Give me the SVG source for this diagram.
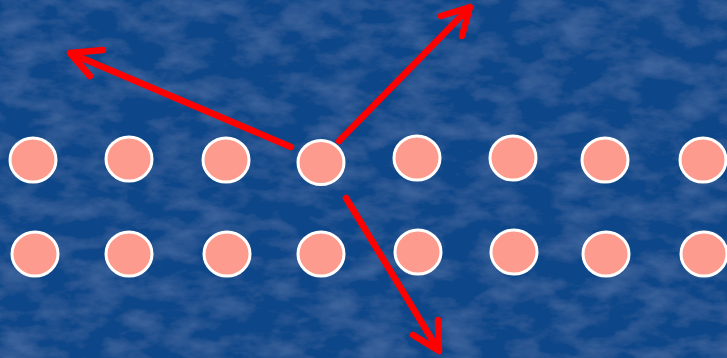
<svg xmlns="http://www.w3.org/2000/svg" width="727" height="358" viewBox="0 0 727 358">
<style>
.dot{fill:#fd9c8e;stroke:#ffffff;stroke-width:3}
.arr{fill:none;stroke:#ff0000;stroke-width:6.5;stroke-linecap:round;stroke-linejoin:round}
</style>
<defs>
<filter id="tex" x="0" y="0" width="100%" height="100%">
<feTurbulence type="fractalNoise" baseFrequency="0.025 0.05" numOctaves="4" seed="3" result="n"/>
<feColorMatrix in="n" type="matrix" values="0 0 0 0 0.25  0 0 0 0 0.45  0 0 0 0 0.75  0 0 0 0.35 -0.14" result="c"/>
<feComposite in="c" in2="SourceGraphic" operator="over"/>
</filter>
</defs>
<rect width="727" height="358" fill="#0d4789" filter="url(#tex)"/>
<g id="row1">
<ellipse id="n1" class="dot" cx="33" cy="160" rx="23" ry="22"/>
<ellipse id="n2" class="dot" cx="129" cy="159" rx="23" ry="22"/>
<ellipse id="n3" class="dot" cx="226" cy="160" rx="23" ry="22"/>
<ellipse id="n4" class="dot" cx="321" cy="162.5" rx="23" ry="22"/>
<ellipse id="n5" class="dot" cx="417" cy="158" rx="23" ry="22"/>
<ellipse id="n6" class="dot" cx="513" cy="158" rx="23" ry="22"/>
<ellipse id="n7" class="dot" cx="605" cy="160" rx="23" ry="22"/>
<ellipse id="n8" class="dot" cx="703" cy="160" rx="23" ry="22"/>
</g>
<g id="row2">
<ellipse id="m1" class="dot" cx="35" cy="254" rx="23" ry="22"/>
<ellipse id="m2" class="dot" cx="129" cy="254" rx="23" ry="22"/>
<ellipse id="m3" class="dot" cx="227" cy="254" rx="23" ry="22"/>
<ellipse id="m4" class="dot" cx="321" cy="254" rx="23" ry="22"/>
<ellipse id="m5" class="dot" cx="418" cy="252" rx="23" ry="22"/>
<ellipse id="m6" class="dot" cx="514" cy="252" rx="23" ry="22"/>
<ellipse id="m7" class="dot" cx="606" cy="254" rx="23" ry="22"/>
<ellipse id="m8" class="dot" cx="704" cy="254" rx="23" ry="22"/>
</g>
<g id="connectors">
<path class="arr" d="M339,141 L470,7 M441,16 L470,7 L462,36"/>
<path class="arr" d="M291,147 L70,53 M103,50 L70,53 L90,76"/>
<path class="arr" d="M346,198 L439,351 M413,335 L439,351 L438,320"/>
</g>
</svg>
